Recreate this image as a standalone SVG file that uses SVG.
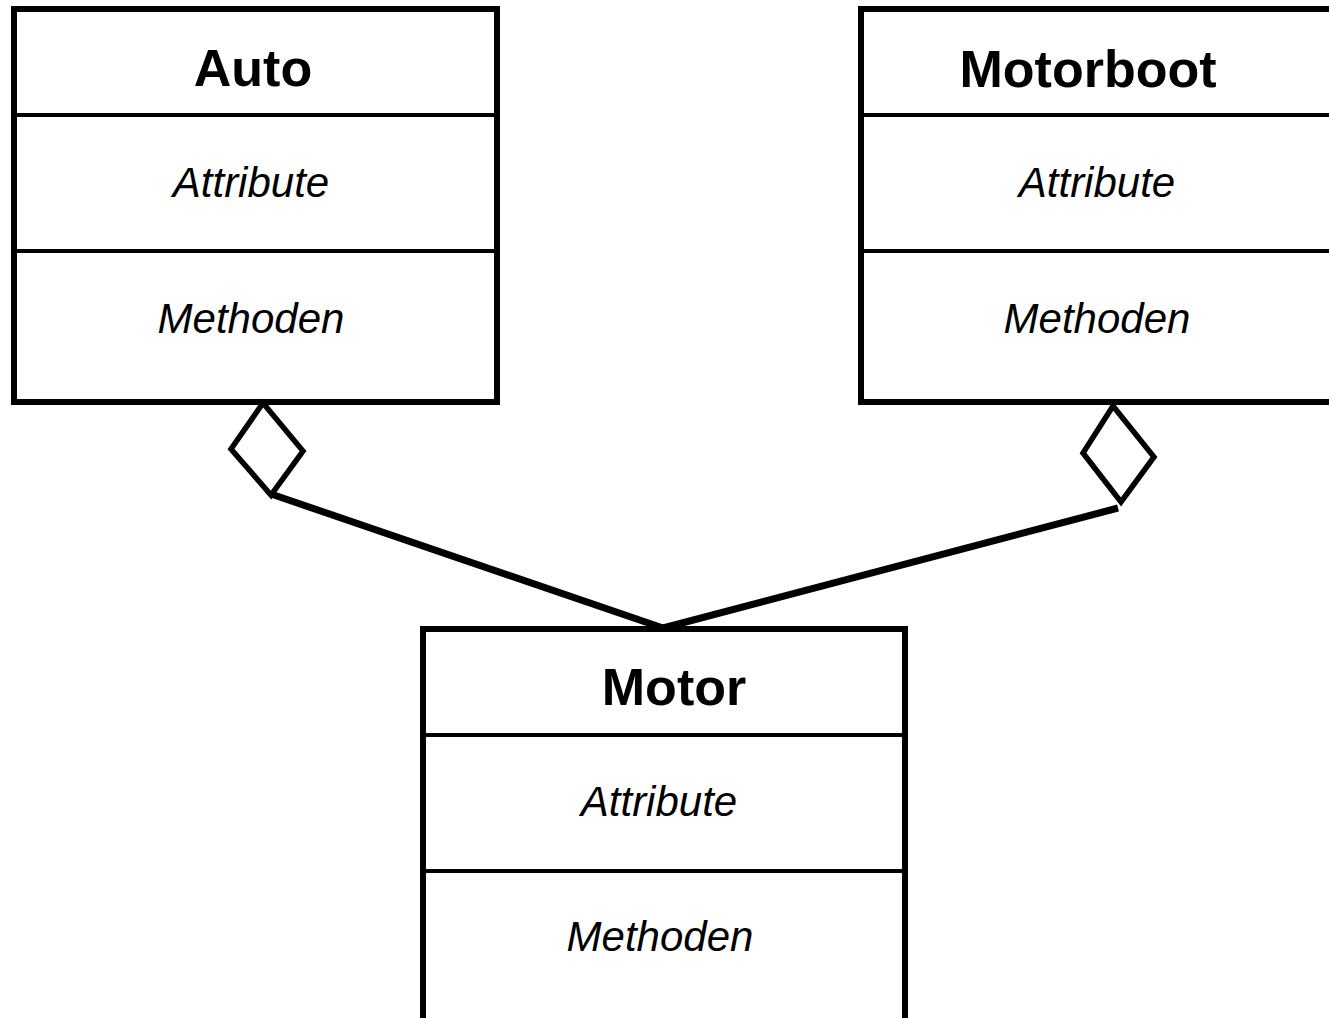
<svg xmlns="http://www.w3.org/2000/svg" width="1329" height="1018" viewBox="0 0 1329 1018">
<style>
.box{fill:#fff;stroke:#000;stroke-width:6}
.div{stroke:#000;stroke-width:4}
.title{font-family:"Liberation Sans",Arial,sans-serif;font-weight:bold;font-size:52px;text-anchor:middle;fill:#000}
.sec{font-family:"Liberation Sans",Arial,sans-serif;font-style:italic;font-size:42px;text-anchor:middle;fill:#000}
.conn{stroke:#000;stroke-width:7;fill:none}
.dia{fill:#fff;stroke:#000;stroke-width:5.5;stroke-linejoin:miter}
</style>
<rect width="1329" height="1018" fill="#fff"/>
<g id="connectors">
<line class="conn" x1="271" y1="494" x2="663" y2="628"/>
<line class="conn" x1="1118" y1="508" x2="663" y2="628"/>
</g>
<g id="auto">
<rect class="box" x="14" y="9" width="483" height="393"/>
<line class="div" x1="14" y1="115" x2="497" y2="115"/>
<line class="div" x1="14" y1="251" x2="497" y2="251"/>
<text class="title" x="253" y="86">Auto</text>
<text class="sec" x="251" y="197">Attribute</text>
<text class="sec" x="251" y="333">Methoden</text>
</g>
<g id="motorboot">
<rect class="box" x="861" y="9" width="483" height="393"/>
<line class="div" x1="861" y1="115" x2="1344" y2="115"/>
<line class="div" x1="861" y1="251" x2="1344" y2="251"/>
<text class="title" x="1088" y="87">Motorboot</text>
<text class="sec" x="1097" y="197">Attribute</text>
<text class="sec" x="1097" y="333">Methoden</text>
</g>
<g id="motor">
<rect class="box" x="423" y="629" width="482" height="420"/>
<line class="div" x1="423" y1="735" x2="905" y2="735"/>
<line class="div" x1="423" y1="871" x2="905" y2="871"/>
<text class="title" x="674" y="705">Motor</text>
<text class="sec" x="659" y="816">Attribute</text>
<text class="sec" x="660" y="951">Methoden</text>
</g>
<g id="diamond-auto">
<polygon class="dia" points="263,403 231,449 271,495 303,451"/>
</g>
<g id="diamond-motorboot">
<polygon class="dia" points="1113,406 1083,453 1121,502 1154,457"/>
</g>
</svg>
